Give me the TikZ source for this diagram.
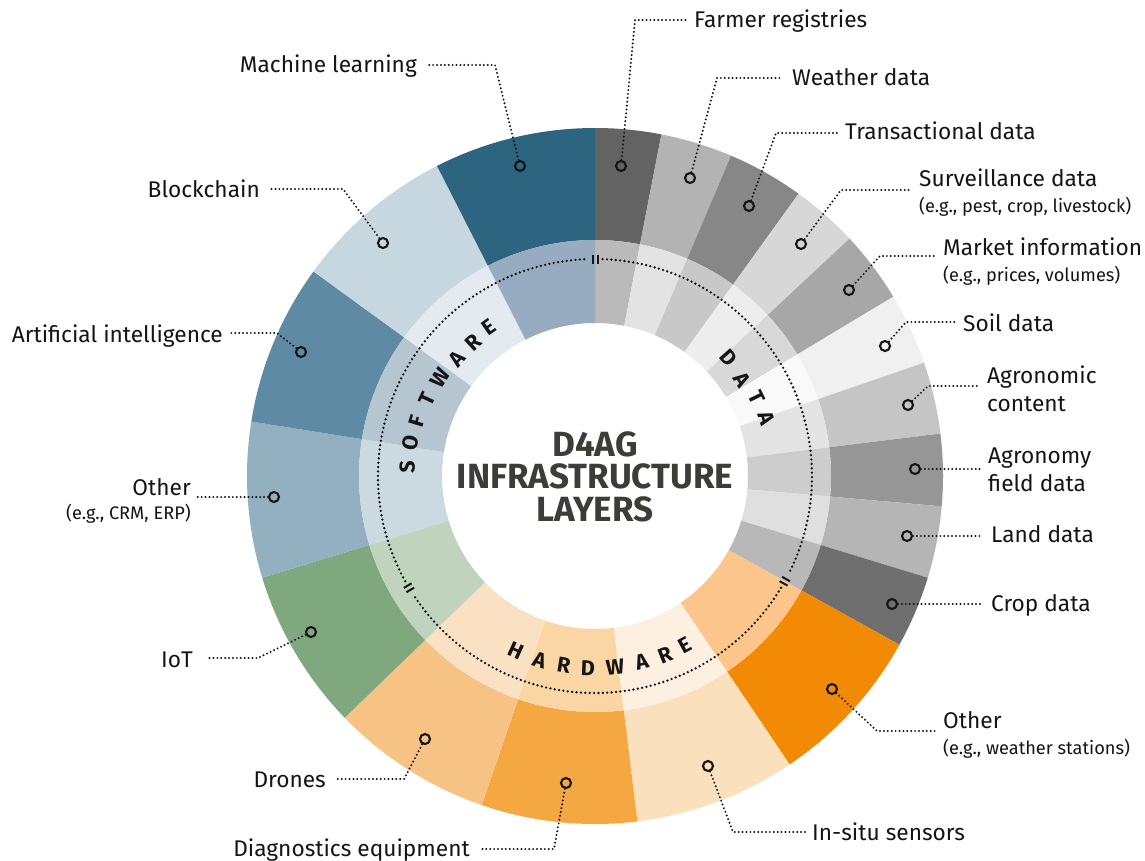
\documentclass[tikz,border=0pt]{standalone}
\usepackage{fontspec}
\setmainfont{Fira Sans}
\usetikzlibrary{calc}
\definecolor{ink}{HTML}{151515}
\definecolor{titleink}{HTML}{3D3D38}
\tikzset{
  lab/.style={inner sep=0pt,text=ink,font=\fontsize{22.7}{28}\selectfont,anchor=base west},
  labr/.style={lab,anchor=base east},
  sublab/.style={lab,font=\fontsize{18.2}{20}\selectfont},
  sublabr/.style={sublab,anchor=base east},
  multi/.style={inner sep=0pt,text=ink,font=\fontsize{22.7}{28}\selectfont,anchor=west,align=left},
  pin/.style={circle,draw=ink,line width=2.1pt,inner sep=0pt,minimum size=10pt},
  leader/.style={draw=ink,line width=2.2pt,line cap=round,dash pattern=on 0pt off 3.9pt},
  ringdots/.style={draw=ink,line width=2.6pt,line cap=round,dash pattern=on 0pt off 4.4pt},
  letter/.style={inner sep=0pt,text=ink,font=\fontsize{21.5}{22}\selectfont\bfseries},
  tick/.style={draw=ink,line width=2pt},
  titletext/.style={inner sep=0pt,text=titleink,font=\fontsize{35}{35}\selectfont\bfseries}
}
\begin{document}
\begin{tikzpicture}[x=1pt,y=-1pt]
\useasboundingbox (0,0) rectangle (1145,861);
\fill[white] (0,0) rectangle (1145,861);
% sectors
\foreach \a/\b/\co/\ci in {
  0/11/636363/BABABA, 11/23/B3B3B3/E3E3E3, 23/35.8/878787/C8C8C8, 35.8/47/D7D7D7/EDEDED,
  47/59/A7A7A7/D8D8D8, 59/71/F0F0F0/F9F9F9, 71/83/C5C5C5/E4E4E4, 83/95/969696/CDCDCD,
  95/107/B5B5B5/DFDFDF, 107/119/6F6F6F/B8B8B8,
  119/146/F28A05/FCC58B, 146/173/FBE0BD/FDF0E0, 173/199/F5A742/FAD6A5, 199/226/F7C384/FBE1C3,
  226/253/7FA87F/C0D4BD, 253/279/92B0BF/CBD9E1, 279/306/5E8BA3/B5C6D1, 306/333/C7D7E0/E3EAF0,
  333/360/2D6480/97ACC0}{
  \definecolor{oc}{HTML}{\co}\definecolor{ic}{HTML}{\ci}
  \pgfmathsetmacro{\sa}{\a-90}\pgfmathsetmacro{\sb}{\b-90}
  \fill[oc] ([shift={(595,476)}]\sa:348) arc[start angle=\sa,end angle=\sb,radius=348]
     -- ([shift={(595,476)}]\sb:236) arc[start angle=\sb,end angle=\sa,radius=236] -- cycle;
  \fill[ic] ([shift={(595,476)}]\sa:236) arc[start angle=\sa,end angle=\sb,radius=236]
     -- ([shift={(595,476)}]\sb:153) arc[start angle=\sb,end angle=\sa,radius=153] -- cycle;
}
% dotted ring
\foreach \a/\b in {2/117,121/237,241/358}{
  \pgfmathsetmacro{\sa}{\a-90}\pgfmathsetmacro{\sb}{\b-90}
  \draw[ringdots] ([shift={(595,476)}]\sa:217) arc[start angle=\sa,end angle=\sb,radius=217];
}
% ticks
\foreach \th in {0,119,239}{
  \begin{scope}[shift={(595,476)},rotate=-\th]
    \draw[tick] (-2.5,-212.5) -- (-2.5,-221.5);
    \draw[tick] (2.5,-212.5) -- (2.5,-221.5);
  \end{scope}
}
% ring words
\foreach \ch/\t/\r [count=\i] in {D/48.5/179,A/57/176,T/64/180,A/71.5/181}{
  \node[letter,rotate=-\t,name=data\i] at ([shift={(595,476)}]\t-90:\r) {\ch};
}
\foreach \ch/\t/\r [count=\i] in {S/272.7/188,O/280.3/188,F/287/186,T/294.6/185,W/302.3/183,A/310.5/181,R/317.7/181,E/324.7/183}{
  \node[letter,rotate=-\t,name=soft\i] at ([shift={(595,476)}]\t-90:\r) {\ch};
}
\foreach \ch/\t [count=\i] in {H/204.3,A/196.8,R/189.3,D/182.1,W/174,A/165.9,R/158.6,E/152}{
  \pgfmathsetmacro{\rr}{180-\t}
  \node[letter,rotate=\rr,name=hard\i] at ([shift={(595,476)}]\t-90:192) {\ch};
}
% title
\node[titletext,name=t1] at (595,444) {D4AG};
\node[titletext,name=t2] at (595,476) {INFRASTRUCTURE};
\node[titletext,name=t3] at (595,509) {LAYERS};
% labels
\node[lab,name=lfarmer] at (694,28) {Farmer registries};
\node[lab,name=lweather] at (792,86) {Weather data};
\node[lab,name=ltrans] at (845,140) {Transactional data};
\node[lab,name=lsurv] at (919,186) {Surveillance data};
\node[sublab,name=lsurvs] at (919,212) {(e.g., pest, crop, livestock)};
\node[lab,name=lmarket] at (943,255) {Market information};
\node[sublab,name=lmarkets] at (943,281) {(e.g., prices, volumes)};
\node[lab,name=lsoil] at (963,331) {Soil data};
\node[multi,name=lagro] at (987,389) {Agronomic\\content};
\node[multi,name=lfield] at (988,470) {Agronomy\\field data};
\node[lab,name=lland] at (991,542) {Land data};
\node[lab,name=lcrop] at (991,611) {Crop data};
\node[lab,name=lhwo] at (943,728) {Other};
\node[sublab,name=lhwos] at (943,754) {(e.g., weather stations)};
\node[lab,name=linsitu] at (812,840) {In-situ sensors};
\node[labr,name=ldiag] at (470,856) {Diagnostics equipment};
\node[labr,name=ldrones] at (326,787) {Drones};
\node[labr,name=liot] at (193,667) {IoT};
\node[labr,name=lswo] at (191,495) {Other};
\node[sublabr,name=lswos] at (191,519) {(e.g., CRM, ERP)};
\node[labr,name=lai] at (223,342) {Artificial intelligence};
\node[labr,name=lblock] at (260,197) {Blockchain};
\node[labr,name=lml] at (417,73) {Machine learning};
% pins
\foreach \n/\x/\y in {farmer/621/166,weather/690/178,trans/749/206,surv/801/244,market/849/290,
  soil/885/346,agro/908/405,field/915/469,land/907/536,crop/892/604,hwo/832/689,insitu/708/766,
  diag/566/783,drones/425/739,iot/311/632,swo/274/497,ai/301/352,block/383/243,ml/520/166}{
  \node[pin,name=p\n] at (\x,\y) {};
}
% elbows
\foreach \n/\x/\y in {farmer/635/20,weather/717/78,trans/776/133,surv/841/190,market/880/256,
  soil/906/322,agro/928/386,hwo/877/731,insitu/733/832,diag/554/849,drones/404/779,iot/258/658,
  ai/277/333,block/343/189,ml/495/65}{
  \coordinate (c\n) at (\x,\y);
}
% leaders with an elbow
\foreach \n/\g/\lab/\side in {farmer/6/lfarmer/west,weather/9/lweather/west,trans/7/ltrans/west,
  surv/7/lsurv/west,market/8/lmarket/west,soil/7/lsoil/west,agro/7/lagro/west,hwo/6/lhwo/west,
  insitu/6/linsitu/west,diag/12/ldiag/east,drones/9/ldrones/east,iot/14/liot/east,ai/8/lai/east,
  block/11/lblock/east,ml/9/lml/east}{
  \draw[leader,shorten >=\g pt] (p\n) -- (c\n) -- (c\n -| \lab.\side);
}
% straight leaders
\draw[leader,shorten >=8pt] (pfield) -- (pfield -| lfield.west);
\draw[leader,shorten >=11pt] (pland) -- (pland -| lland.west);
\draw[leader,shorten >=11pt] (pcrop) -- (pcrop -| lcrop.west);
\draw[leader,shorten >=6pt] (pswo) -- (pswo -| lswo.east);
\end{tikzpicture}
\end{document}
